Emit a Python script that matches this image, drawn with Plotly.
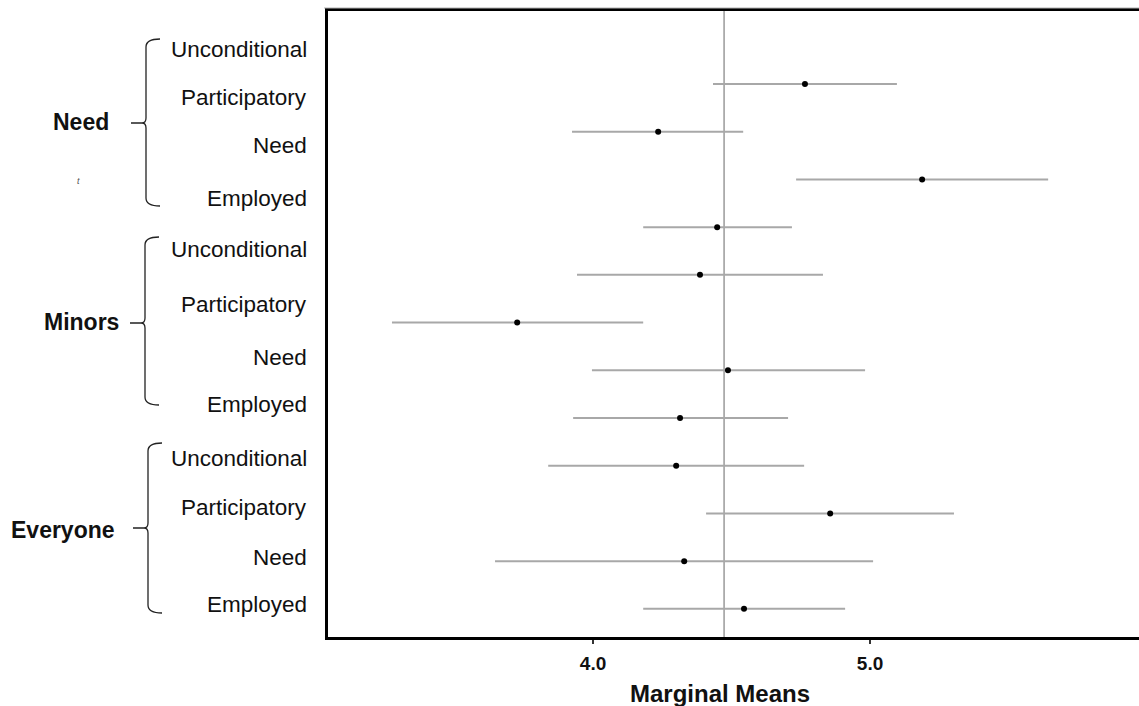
import plotly.graph_objects as go

# ---- data ----
groups = ["Need", "Minors", "Everyone"]
conditions = ["Unconditional", "Participatory", "Need", "Employed"]
means = [4.765, 4.235, 5.188, 4.448, 4.386, 3.726, 4.487, 4.314, 4.300, 4.856, 4.329, 4.545]
lower = [4.433, 3.924, 4.733, 4.181, 3.942, 3.274, 3.996, 3.928, 3.838, 4.408, 3.646, 4.181]
upper = [5.097, 4.542, 5.643, 4.718, 4.830, 4.181, 4.982, 4.704, 4.762, 5.303, 5.011, 4.910]
grand_mean = 4.473
tick_vals = [4.0, 5.0]
tick_text = ["4.0", "5.0"]
x_title = "Marginal Means"

# ---- layout geometry (pixels) ----
W, H = 1139, 706
L, R, T, B = 328, 0, 11, 69
PW, PH = W - L - R, H - T - B

def px(x):
    return (x - L) / PW

def py(y):
    return (H - B - y) / PH

FONT = "Liberation Sans, Arial, sans-serif"

rows = list(range(1, len(means) + 1))
err_plus = [u - m for u, m in zip(upper, means)]
err_minus = [m - l for m, l in zip(means, lower)]

fig = go.Figure()
fig.add_trace(go.Scatter(
    x=means, y=rows, mode="markers",
    marker=dict(color="black", size=6),
    error_x=dict(type="data", symmetric=False, array=err_plus, arrayminus=err_minus,
                 color="#a8a8a8", thickness=2, width=0),
    showlegend=False, hoverinfo="skip",
))

shapes = []
# reference vertical line
shapes.append(dict(type="line", xref="x", yref="paper", x0=grand_mean, x1=grand_mean,
                   y0=0, y1=1, line=dict(color="#9a9a9a", width=1.5), layer="below"))
# thin grey line just above the top frame
shapes.append(dict(type="line", xref="paper", yref="paper", x0=px(324), x1=1, y0=py(8), y1=py(8),
                   line=dict(color="#b0b0b0", width=1)))

# braces for groups (top, mid, bottom pixel y, x of spine)
brace_geo = [(39, 123, 206, 146), (237, 323, 405, 145), (443, 528, 613, 148)]
for top, mid, bot, xs in brace_geo:
    hook = xs + 14
    pts = (f"M {px(hook)},{py(top)} Q {px(xs)},{py(top)} {px(xs)},{py(top+8)} "
           f"L {px(xs)},{py(mid-5)} Q {px(xs)},{py(mid)} {px(xs-4)},{py(mid)} "
           f"L {px(xs-15)},{py(mid)} M {px(xs-4)},{py(mid)} Q {px(xs)},{py(mid)} {px(xs)},{py(mid+5)} "
           f"L {px(xs)},{py(bot-8)} Q {px(xs)},{py(bot)} {px(hook)},{py(bot)}")
    shapes.append(dict(type="path", xref="paper", yref="paper", path=pts,
                       line=dict(color="#222", width=1.3)))

annotations = []
label_y = [49, 98, 145, 198, 249, 304, 357, 404, 458, 507, 557, 604]
k = 0
for g in groups:
    for c in conditions:
        annotations.append(dict(text=c, xref="paper", yref="paper", x=px(309), y=py(label_y[k]),
                                xanchor="right", yanchor="middle", showarrow=False,
                                font=dict(family=FONT, size=22.5, color="#111")))
        k += 1
group_pos = [(111, 122), (121, 322), (117, 530)]
for g, (gx, gy) in zip(groups, group_pos):
    annotations.append(dict(text=f"<b>{g}</b>", xref="paper", yref="paper", x=px(gx), y=py(gy),
                            xanchor="right", yanchor="middle", showarrow=False,
                            font=dict(family=FONT, size=23, color="#111")))
annotations.append(dict(text="<i>t</i>", xref="paper", yref="paper", x=px(78), y=py(181),
                        xanchor="center", yanchor="middle", showarrow=False,
                        font=dict(family=FONT, size=9, color="#555")))
annotations.append(dict(text=f"<b>{x_title}</b>", xref="paper", yref="paper", x=px(720), y=py(693),
                        xanchor="center", yanchor="middle", showarrow=False,
                        font=dict(family=FONT, size=24, color="#111")))

fig.update_layout(
    width=W, height=H,
    margin=dict(l=L, r=R, t=T, b=B, pad=0),
    plot_bgcolor="white", paper_bgcolor="white",
    shapes=shapes, annotations=annotations,
    xaxis=dict(range=[3.043, 5.971], tickvals=tick_vals,
               ticktext=[f"<b>{t}</b>" for t in tick_text],
               showgrid=False, zeroline=False, showline=True, mirror=True,
               linecolor="black", linewidth=3, ticks="outside", ticklen=4,
               tickcolor="#333", tickwidth=1.5, ticklabelstandoff=3,
               tickfont=dict(family=FONT, size=19, color="#111")),
    yaxis=dict(range=[12.59, -0.53], showticklabels=False, showgrid=False, zeroline=False,
               showline=True, linecolor="black", linewidth=3, ticks=""),
)

fig.write_html("out.html")
